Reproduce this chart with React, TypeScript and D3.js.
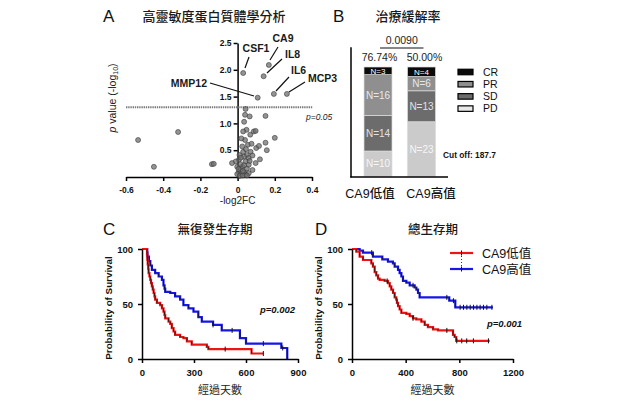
import React, { useEffect, useRef } from 'react';
import * as d3 from 'd3';

const W = 624;
const H = 400;
const LATIN = "'Liberation Sans', Arial, 'Noto Sans CJK TC', sans-serif";
const CJK = "'Noto Sans CJK TC', 'Noto Sans CJK SC', sans-serif";

// ---- Panel A: proteomics volcano plot (log2FC vs -log10 p) ----
const volcanoPoints: [number, number][] = [
  [-0.535, 0.69], [-0.32, 0.84], [-0.45, 0.19], [-0.138, 0.24], [-0.128, 0.245],
  [0.043, 1.27], [0.04, 1.16], [0.065, 1.13], [0.15, 1.14], [0.035, 1.03],
  [0.048, 0.88], [0.068, 0.79], [0.087, 0.85], [0.097, 0.86], [0.04, 0.69],
  [0.02, 0.72], [0.2, 0.73], [0.15, 0.64], [0.157, 0.5], [0.1, 0.54], [0.115, 0.58],
  [0.055, 0.6], [0.025, 0.57], [0.07, 0.47], [0.05, 0.41], [0.034, 0.38], [0.06, 0.355],
  [0.097, 0.26], [0.043, 0.29], [0.007, 0.32], [-0.01, 0.29], [-0.03, 0.26],
  [-0.002, 0.19], [0.025, 0.19], [0.05, 0.16], [0.08, 0.13], [0.016, 0.13],
  [0.007, 0.09], [0.034, 0.09], [-0.002, 0.055], [0.02, 0.055], [0.043, 0.05],
  [0.012, 0.02], [0.028, 0.03], [0.06, 0.07], [0.015, 0.24], [0.035, 0.22], [0.06, 0.23],
  [0.01, 0.41], [0.03, 0.47], [0.045, 0.52], [0.08, 0.4], [0.12, 0.33], [0.005, 0.15],
  [0.028, 0.11], [0.05, 0.03], [0.065, 0.3], [0.018, 0.36], [0.075, 0.62], [0.03, 0.85],
];
const namedProteins = ['CSF1', 'CA9', 'IL8', 'IL6', 'MCP3', 'MMP12'];
const namedFC = [0.03, 0.168, 0.14, 0.195, 0.265, 0.108];
const namedLogP = [1.94, 2.09, 1.88, 1.55, 1.55, 1.48];
const volcanoXTicks = [-0.6, -0.4, -0.2, 0, 0.2, 0.4];
const volcanoYTicks = [0.5, 1.0, 1.5, 2.0, 2.5];
const pThreshold = 0.05;

// ---- Panel B: treatment response ----
const responseKeys = ['CR', 'PR', 'SD', 'PD'];
const ca9Groups = ['CA9低值', 'CA9高值'];
const lowCA9Counts = [3, 16, 14, 10];
const highCA9Counts = [4, 6, 13, 23];
const responsePValue = '0.0090';
const ca9Cutoff = 187.7;

// ---- Panels C/D: Kaplan-Meier steps [day, % surviving] ----
const pfsLow: [number, number][] = [
  [0, 100], [29, 95], [31, 90], [33, 86], [36, 82], [38, 78], [43, 75], [48, 72], [52, 69],
  [57, 66], [62, 63], [67, 60], [72, 57], [76, 54], [86, 51], [105, 49], [115, 46], [124, 43],
  [130, 40], [134, 37], [153, 34], [163, 32], [172, 28], [182, 25], [191, 22], [220, 20],
  [239, 19], [259, 16], [287, 13], [374, 11], [383, 9], [632, 5], [700, 5],
];
const pfsHigh: [number, number][] = [
  [0, 100], [30, 97], [32, 93], [40, 89], [48, 85], [57, 81], [76, 78], [96, 75], [115, 72],
  [124, 67], [130, 64], [134, 61], [163, 60], [191, 57], [220, 54], [239, 49], [268, 46],
  [297, 43], [325, 38], [345, 34], [410, 31], [460, 26], [565, 19], [600, 14], [804, 10],
  [838, 0],
];
const pfsLowCensor = [480, 700];
const pfsHighCensor = [410, 520, 700, 812];

const osLow: [number, number][] = [
  [0, 100], [32, 97.6], [57, 93], [82, 90], [144, 87], [156, 84], [169, 79], [181, 76],
  [194, 73], [206, 72], [243, 71], [268, 69], [281, 66], [293, 63], [306, 60], [318, 56],
  [330, 54], [335, 51], [343, 48], [355, 45], [368, 42], [405, 41], [430, 39], [455, 37],
  [479, 36], [517, 34], [542, 31], [566, 29], [604, 27], [641, 26], [753, 22], [765, 20],
  [777, 16.5], [1026, 16.5],
];
const osHigh: [number, number][] = [
  [0, 100], [57, 98.5], [82, 96.7], [156, 93], [226, 90.6], [268, 88.5], [305, 87],
  [318, 84], [343, 81], [355, 78], [368, 75], [380, 71], [405, 69.4], [430, 67], [467, 65],
  [480, 63], [492, 60], [504, 56], [725, 53], [770, 47], [1050, 47],
];
const osLowCensor = [262, 455, 707, 781, 818, 855, 905, 1017];
const osHighCensor = [147, 455, 707, 756, 806, 831, 856, 881, 906, 931, 955, 980, 1005, 1043];

const RED = '#ee1414';
const BLUE = '#1616e8';

type Sel = d3.Selection<SVGGElement, unknown, null, undefined>;

function styleAxis(g: Sel, size: number) {
  g.select('.domain').attr('stroke', '#000').attr('stroke-width', 1.5);
  g.selectAll('.tick line').attr('stroke', '#000').attr('stroke-width', 1.5);
  g.selectAll('.tick text')
    .attr('fill', '#111')
    .attr('font-family', LATIN)
    .attr('font-weight', 'bold')
    .attr('font-size', size);
}

function drawVolcano(g: Sel) {
  const x = d3.scaleLinear().domain([-0.6, 0.4]).range([126, 312]);
  const y = d3.scaleLinear().domain([0, 2.5]).range([177, 43]);

  g.append('text').attr('x', 103).attr('y', 22).attr('font-family', LATIN).attr('font-size', 17).attr('fill', '#111').text('A');
  g.append('text').attr('x', 214).attr('y', 21).attr('text-anchor', 'middle').attr('font-family', CJK).attr('font-weight', 500).attr('font-size', 13).attr('fill', '#1a1a1a').text('高靈敏度蛋白質體學分析');

  const xa = g.append('g').attr('transform', `translate(0,${y(0)})`)
    .call(d3.axisBottom(x).tickValues(volcanoXTicks).tickSize(4).tickSizeOuter(0).tickPadding(6).tickFormat(d => String(d)));
  styleAxis(xa, 8.5);
  const ya = g.append('g').attr('transform', `translate(${x(0)},0)`)
    .call(d3.axisLeft(y).tickValues(volcanoYTicks).tickSize(4).tickSizeOuter(0).tickPadding(2).tickFormat(d => (d as number).toFixed(1)));
  styleAxis(ya, 8.5);

  // significance threshold
  const yThr = y(-Math.log10(pThreshold));
  g.append('line').attr('x1', x(-0.6)).attr('x2', x(0.4) + 1).attr('y1', yThr).attr('y2', yThr)
    .attr('stroke', '#7a7a7a').attr('stroke-width', 1.8).attr('stroke-dasharray', '1.4,0.8');
  g.append('text').attr('x', 306).attr('y', 120).attr('font-family', LATIN).attr('font-style', 'italic').attr('font-size', 8.5).attr('fill', '#222').text('p=0.05');

  const dot = (sel: d3.Selection<SVGCircleElement, [number, number], SVGGElement, unknown>) =>
    sel.attr('cx', d => x(d[0])).attr('cy', d => y(d[1])).attr('r', 2.5)
      .attr('fill', '#6f6f6f').attr('fill-opacity', 0.75).attr('stroke', '#3a3a3a').attr('stroke-width', 0.6);

  g.append('g').selectAll('circle').data(volcanoPoints).join('circle').call(dot);
  const named = namedProteins.map((n, i) => [namedFC[i], namedLogP[i]] as [number, number]);
  g.append('g').selectAll('circle').data(named).join('circle').call(dot);

  // label placement for the named proteins: text position + leader line end
  const labelLayout: Record<string, { tx: number; ty: number; anchor: string; lx: number; ly: number; px: number; py: number }> = {
    CSF1: { tx: 256, ty: 52, anchor: 'middle', lx: 249, ly: 57, px: 245, py: 68 },
    CA9: { tx: 283, ty: 42, anchor: 'middle', lx: 278, ly: 47, px: 270, py: 60 },
    IL8: { tx: 285, ty: 58, anchor: 'start', lx: 282, ly: 59, px: 267, py: 73 },
    IL6: { tx: 291, ty: 74, anchor: 'start', lx: 289, ly: 77, px: 276, py: 91 },
    MCP3: { tx: 308, ty: 82, anchor: 'start', lx: 305, ly: 82, px: 289, py: 92 },
    MMP12: { tx: 207, ty: 87, anchor: 'end', lx: 210, ly: 83, px: 254, py: 96 },
  };
  namedProteins.forEach(n => {
    const l = labelLayout[n];
    g.append('line').attr('x1', l.lx).attr('y1', l.ly).attr('x2', l.px).attr('y2', l.py).attr('stroke', '#111').attr('stroke-width', 1.2);
    g.append('text').attr('x', l.tx).attr('y', l.ty).attr('text-anchor', l.anchor)
      .attr('font-family', LATIN).attr('font-weight', 'bold').attr('font-size', 10.5).attr('fill', '#1a1a1a').text(n);
  });

  g.append('text').attr('x', x(0)).attr('y', 204).attr('text-anchor', 'middle').attr('font-family', LATIN).attr('font-size', 10).attr('fill', '#222').text('-log2FC');

  const yl = g.append('text').attr('transform', 'translate(116,98) rotate(-90)').attr('text-anchor', 'middle')
    .attr('font-family', LATIN).attr('font-size', 10.5).attr('fill', '#222');
  yl.append('tspan').attr('font-style', 'italic').text('p');
  yl.append('tspan').text(' value (-log');
  yl.append('tspan').attr('font-size', 7).attr('dy', 2).text('10');
  yl.append('tspan').attr('dy', -2).text(')');
}

function drawResponse(g: Sel) {
  const countsByGroup = [lowCA9Counts, highCA9Counts];
  const colors = ['#0b0b0b', '#8f8f8f', '#6c6c6c', '#cbcbcb'];
  const textColors = ['#ffffff', '#e8e8e8', '#e2e2e2', '#f6f6f6'];

  const x = d3.scaleBand<string>().domain(ca9Groups).range([364, 435.5]).paddingInner(0.356).paddingOuter(0);
  const y = d3.scaleLinear().domain([0, 100]).range([176.5, 67]);

  g.append('text').attr('x', 333).attr('y', 22).attr('font-family', LATIN).attr('font-size', 17).attr('fill', '#111').text('B');
  g.append('text').attr('x', 408).attr('y', 21).attr('text-anchor', 'middle').attr('font-family', CJK).attr('font-weight', 500).attr('font-size', 13).attr('fill', '#1a1a1a').text('治療緩解率');

  const rows = ca9Groups.map((grp, gi) => {
    const c = countsByGroup[gi];
    const total = d3.sum(c);
    const row: Record<string, number | string> = { group: grp };
    responseKeys.forEach((k, i) => { row[k] = (c[i] / total) * 100; });
    return row;
  });
  const stackKeys = [...responseKeys].reverse();
  const series = d3.stack<Record<string, number | string>>().keys(stackKeys)(rows);

  series.forEach(s => {
    const ki = responseKeys.indexOf(s.key);
    s.forEach((seg, gi) => {
      const grp = ca9Groups[gi];
      const x0 = x(grp)!;
      const yTop = y(seg[1]);
      const yBot = y(seg[0]);
      g.append('rect').attr('x', x0).attr('y', yTop).attr('width', x.bandwidth()).attr('height', yBot - yTop)
        .attr('fill', colors[ki]).attr('stroke', '#dcdcdc').attr('stroke-width', 0.7);
      const n = countsByGroup[gi][ki];
      const fs = ki === 0 ? 8 : 10;
      g.append('text').attr('x', x0 + x.bandwidth() / 2).attr('y', (yTop + yBot) / 2 + fs * 0.36)
        .attr('text-anchor', 'middle').attr('font-family', LATIN).attr('font-size', fs)
        .attr('fill', textColors[ki]).text(`N=${n}`);
    });
  });

  // axes (no ticks)
  g.append('line').attr('x1', 351).attr('x2', 351).attr('y1', y(118)).attr('y2', 177.5).attr('stroke', '#000').attr('stroke-width', 1.5);
  g.append('line').attr('x1', 350.25).attr('x2', 448).attr('y1', 177).attr('y2', 177).attr('stroke', '#000').attr('stroke-width', 1.5);

  // control rate above each bar
  ca9Groups.forEach((grp, gi) => {
    const c = countsByGroup[gi];
    const rate = ((d3.sum(c) - c[3]) / d3.sum(c)) * 100;
    g.append('text').attr('x', x(grp)! + x.bandwidth() / 2 + (gi === 0 ? 1.5 : 3)).attr('y', 61).attr('text-anchor', 'middle')
      .attr('font-family', LATIN).attr('font-size', 10.5).attr('fill', '#222').text(`${rate.toFixed(2)}%`);
    g.append('text').attr('x', x(grp)! + x.bandwidth() / 2 + (gi === 0 ? -8 : 9.5)).attr('y', 198).attr('text-anchor', 'middle')
      .attr('font-family', LATIN).attr('font-weight', 500).attr('font-size', 12.5).attr('fill', '#111').text(grp);
  });
  const c1 = x(ca9Groups[0])! + x.bandwidth() / 2;
  const c2 = x(ca9Groups[1])! + x.bandwidth() / 2;
  g.append('line').attr('x1', c1 + 2).attr('x2', c2 + 2).attr('y1', 48).attr('y2', 48).attr('stroke', '#111').attr('stroke-width', 1.1);
  g.append('text').attr('x', (c1 + c2) / 2 + 2).attr('y', 44).attr('text-anchor', 'middle')
    .attr('font-family', LATIN).attr('font-size', 10.5).attr('fill', '#222').text(responsePValue);

  // legend
  responseKeys.forEach((k, i) => {
    const cy = 72 + i * 12.2;
    g.append('rect').attr('x', 458).attr('y', cy - 2.75).attr('width', 15).attr('height', 5.5)
      .attr('fill', k === 'PD' ? '#e8e8e8' : colors[i]).attr('stroke', '#000').attr('stroke-width', 1.2);
    g.append('text').attr('x', 483).attr('y', cy + 3.8).attr('font-family', LATIN).attr('font-size', 10.5).attr('fill', '#111').text(k);
  });

  g.append('text').attr('x', 443).attr('y', 158).attr('font-family', LATIN).attr('font-weight', 'bold').attr('font-size', 9)
    .attr('textLength', 53).attr('lengthAdjust', 'spacingAndGlyphs').attr('fill', '#111').text(`Cut off: ${ca9Cutoff}`);
}

function stepValue(steps: [number, number][], t: number) {
  let v = steps[0][1];
  for (const s of steps) if (s[0] <= t) v = s[1];
  return v;
}

function drawKM(g: Sel, x: d3.ScaleLinear<number, number>, y: d3.ScaleLinear<number, number>,
  steps: [number, number][], color: string, censor: number[]) {
  const line = d3.line<[number, number]>().x(d => x(d[0])).y(d => y(d[1])).curve(d3.curveStepAfter);
  g.append('path').attr('d', line(steps)).attr('fill', 'none').attr('stroke', color).attr('stroke-width', 2.2);
  // thin dark core on each drop
  for (let i = 1; i < steps.length; i++) {
    if (steps[i][1] === steps[i - 1][1]) continue;
    g.append('line').attr('x1', x(steps[i][0])).attr('x2', x(steps[i][0]))
      .attr('y1', y(steps[i - 1][1])).attr('y2', y(steps[i][1])).attr('stroke', '#111').attr('stroke-width', 0.8);
  }
  censor.forEach(t => {
    const cy = y(stepValue(steps, t));
    g.append('line').attr('x1', x(t)).attr('x2', x(t)).attr('y1', cy - 2.5).attr('y2', cy + 2.5).attr('stroke', '#111').attr('stroke-width', 1);
  });
}

function drawSurvival(g: Sel, opt: {
  letter: string; letterX: number; title: string; titleX: number;
  xMax: number; xTicks: number[]; x0: number; x1: number; yLabelX: number;
  low: [number, number][]; high: [number, number][]; lowCensor: number[]; highCensor: number[];
  pText: string; pX: number; pY: number; legend: boolean;
}) {
  const x = d3.scaleLinear().domain([0, opt.xMax]).range([opt.x0, opt.x1]);
  const y = d3.scaleLinear().domain([0, 100]).range([359, 249]);

  g.append('text').attr('x', opt.letterX).attr('y', 235).attr('font-family', LATIN).attr('font-size', 17).attr('fill', '#111').text(opt.letter);
  g.append('text').attr('x', opt.titleX).attr('y', 234).attr('text-anchor', 'middle').attr('font-family', CJK).attr('font-weight', 500).attr('font-size', 12.5).attr('fill', '#1a1a1a').text(opt.title);

  drawKM(g, x, y, opt.high, BLUE, opt.highCensor);
  drawKM(g, x, y, opt.low, RED, opt.lowCensor);

  const xa = g.append('g').attr('transform', `translate(0,${y(0)})`)
    .call(d3.axisBottom(x).tickValues(opt.xTicks).tickSize(4).tickSizeOuter(0).tickPadding(6).tickFormat(d => String(d)));
  styleAxis(xa, 9.5);
  const ya = g.append('g').attr('transform', `translate(${x(0)},0)`)
    .call(d3.axisLeft(y).tickValues([0, 50, 100]).tickSize(4).tickSizeOuter(0).tickPadding(5).tickFormat(d => String(d)));
  styleAxis(ya, 9.5);

  g.append('text').attr('transform', `translate(${opt.yLabelX},308) rotate(-90)`).attr('text-anchor', 'middle')
    .attr('font-family', LATIN).attr('font-weight', 'bold').attr('font-size', 9.8).attr('fill', '#111').text('Probability of Survival');
  g.append('text').attr('x', (opt.x0 + opt.x1) / 2).attr('y', 394).attr('text-anchor', 'middle')
    .attr('font-family', CJK).attr('font-size', 11).attr('fill', '#222').text('經過天數');

  g.append('text').attr('x', opt.pX).attr('y', opt.pY).attr('font-family', LATIN).attr('font-weight', 'bold')
    .attr('font-style', 'italic').attr('font-size', 9.5).attr('fill', '#111').text(opt.pText);

  if (opt.legend) {
    [[RED, ca9Groups[0], 253], [BLUE, ca9Groups[1], 269]].forEach(([c, label, ly]) => {
      g.append('line').attr('x1', 450).attr('x2', 473).attr('y1', ly as number).attr('y2', ly as number).attr('stroke', c as string).attr('stroke-width', 2.2);
      g.append('line').attr('x1', 461.5).attr('x2', 461.5).attr('y1', (ly as number) - 2.5).attr('y2', (ly as number) + 2.5).attr('stroke', '#111').attr('stroke-width', 1);
      g.append('text').attr('x', 482).attr('y', (ly as number) + 4.5).attr('font-family', LATIN).attr('font-size', 12.5).attr('fill', '#111').text(label as string);
    });
    g.append('line').attr('x1', 461.5).attr('x2', 461.5).attr('y1', 256).attr('y2', 266)
      .attr('stroke', '#333').attr('stroke-width', 1).attr('stroke-dasharray', '1,2');
  }
}

export default function App() {
  const svgRef = useRef<SVGSVGElement | null>(null);

  useEffect(() => {
    if (!svgRef.current) return;
    const svg = d3.select(svgRef.current);
    svg.selectAll('*').remove();
    svg.append('rect').attr('width', W).attr('height', H).attr('fill', '#fff');

    drawVolcano(svg.append('g'));
    drawResponse(svg.append('g'));
    drawSurvival(svg.append('g'), {
      letter: 'C', letterX: 103, title: '無復發生存期', titleX: 215,
      xMax: 900, xTicks: [0, 300, 600, 900], x0: 142, x1: 298, yLabelX: 111.5,
      low: pfsLow, high: pfsHigh, lowCensor: pfsLowCensor, highCensor: pfsHighCensor,
      pText: 'p=0.002', pX: 260, pY: 313, legend: false,
    });
    drawSurvival(svg.append('g'), {
      letter: 'D', letterX: 315, title: '總生存期', titleX: 433,
      xMax: 1200, xTicks: [0, 400, 800, 1200], x0: 352, x1: 513, yLabelX: 321.5,
      low: osLow, high: osHigh, lowCensor: osLowCensor, highCensor: osHighCensor,
      pText: 'p=0.001', pX: 487, pY: 327, legend: true,
    });
  }, []);

  return (
    <svg ref={svgRef} width={W} height={H} style={{ position: 'absolute', left: 0, top: 0 }} />
  );
}
